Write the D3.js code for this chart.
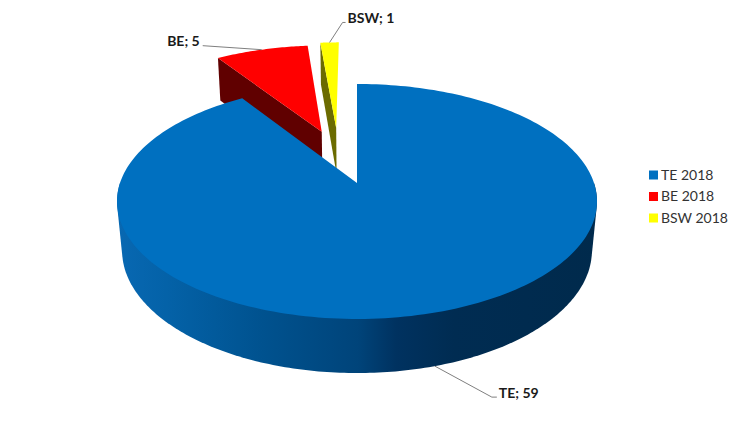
<!DOCTYPE html>
<html><head><meta charset="utf-8">
<script src="https://cdn.jsdelivr.net/npm/d3@7"></script>
<style>html,body{margin:0;background:#fff}svg{display:block}text{font-family:Lato,"Open Sans",sans-serif}</style>
</head><body><svg id="c" width="750" height="422"></svg>
<script>
const categories = ["TE", "BE", "BSW"];
const values = [59, 5, 1];
const legendLabels = ["TE 2018", "BE 2018", "BSW 2018"];
const topColors = ["#0070C0", "#FF0000", "#FFFF00"];
const wallColors = ["#005a9e", "#600000", "#6b6b00"];
const explodeX = [0, -0.16, -0.095];
const explodeY = [0, 0.48, 0.52];
const labelDx = [[57, 31, 62], [-59, -4, -59], [13, -20, 16]];

const svg = d3.select("#c");
const P = {cx: 357, cy: 183, A: 237, B: 114.6, C: 49.6, p: 0.157, q: 0.021};
function proj(x, y, z) {
  const w = 1 + P.p * y + P.q * z;
  return [P.cx + P.A * x / w, P.cy + (-P.B * y + P.C * z) / w];
}
const arcs = d3.pie().sort(null).value(d => d)(values);
const line = d3.line();

const grad = svg.append("defs").append("linearGradient").attr("id", "wall")
  .attr("gradientUnits", "userSpaceOnUse").attr("x1", 118).attr("x2", 598).attr("y1", 0).attr("y2", 0);
[[0, "#0868b2"], [0.1, "#0462a8"], [0.3, "#00528f"], [0.5, "#00447a"], [0.58, "#003260"], [0.7, "#002c52"], [1, "#002a4c"]]
  .forEach(s => grad.append("stop").attr("offset", s[0]).attr("stop-color", s[1]));

function rim(a, i, z, n) {
  const t = d3.range(n + 1).map(k => a.startAngle + (a.endAngle - a.startAngle) * k / n);
  return t.map(v => proj(Math.sin(v) + explodeX[i], Math.cos(v) + explodeY[i], z));
}
function topFace(a, i, n) {
  return [proj(explodeX[i], explodeY[i], 0), ...rim(a, i, 0, n)];
}
function radialWall(a, i) {
  const ox = explodeX[i], oy = explodeY[i];
  const e = [Math.sin(a.startAngle) + ox, Math.cos(a.startAngle) + oy];
  return [proj(ox, oy, 0), proj(e[0], e[1], 0), proj(e[0], e[1], 1), proj(ox, oy, 1)];
}
// exploded slices first, the large slice on top of them
[1, 2].forEach(i => {
  const a = arcs[i];
  svg.append("path").attr("d", line(radialWall(a, i)) + "Z").attr("fill", wallColors[i]);
  svg.append("path").attr("d", line(topFace(a, i, 40)) + "Z").attr("fill", topColors[i]);
});
// outer wall of the large slice: hull of the front half of both rims, top face paints over it
const frontArc = {startAngle: Math.PI * 0.5, endAngle: Math.PI * 1.5};
const wallHull = d3.polygonHull([...rim(frontArc, 0, 0, 200), ...rim(frontArc, 0, 1, 200)]);
svg.append("path").attr("d", line(wallHull) + "Z").attr("fill", "url(#wall)");
svg.append("path").attr("d", line(topFace(arcs[0], 0, 240)) + "Z").attr("fill", topColors[0]);

// leader lines and data labels
arcs.forEach((a, i) => {
  const m = (a.startAngle + a.endAngle) / 2;
  const z = i === 0 ? 1 : 0;
  const s = proj(Math.sin(m) + explodeX[i], Math.cos(m) + explodeY[i], z);
  const d = labelDx[i];
  const pts = [s, [s[0] + d[0], s[1] + d[1]], [s[0] + d[2], s[1] + d[1]]];
  svg.append("path").attr("d", line(pts)).attr("fill", "none").attr("stroke", "#7f7f7f").attr("stroke-width", 1);
  svg.append("text").attr("x", pts[2][0] + (i === 1 ? -3 : 2)).attr("y", pts[2][1] - 4.5)
    .attr("dy", "0.35em").attr("text-anchor", i === 1 ? "end" : "start")
    .attr("font-size", 14).attr("font-weight", 700).attr("fill", "#1a1a1a")
    .text(`${categories[i]}; ${values[i]}`);
});

// legend
const ly = d3.scalePoint().domain(legendLabels).range([175, 218]);
const lc = d3.scaleOrdinal().domain(legendLabels).range(topColors);
legendLabels.forEach(l => {
  svg.append("rect").attr("x", 649).attr("y", ly(l) - 4.5).attr("width", 9).attr("height", 9).attr("fill", lc(l));
  svg.append("text").attr("x", 661).attr("y", ly(l)).attr("dy", "0.35em")
    .attr("font-size", 14).attr("fill", "#333").text(l);
});
</script></body></html>
